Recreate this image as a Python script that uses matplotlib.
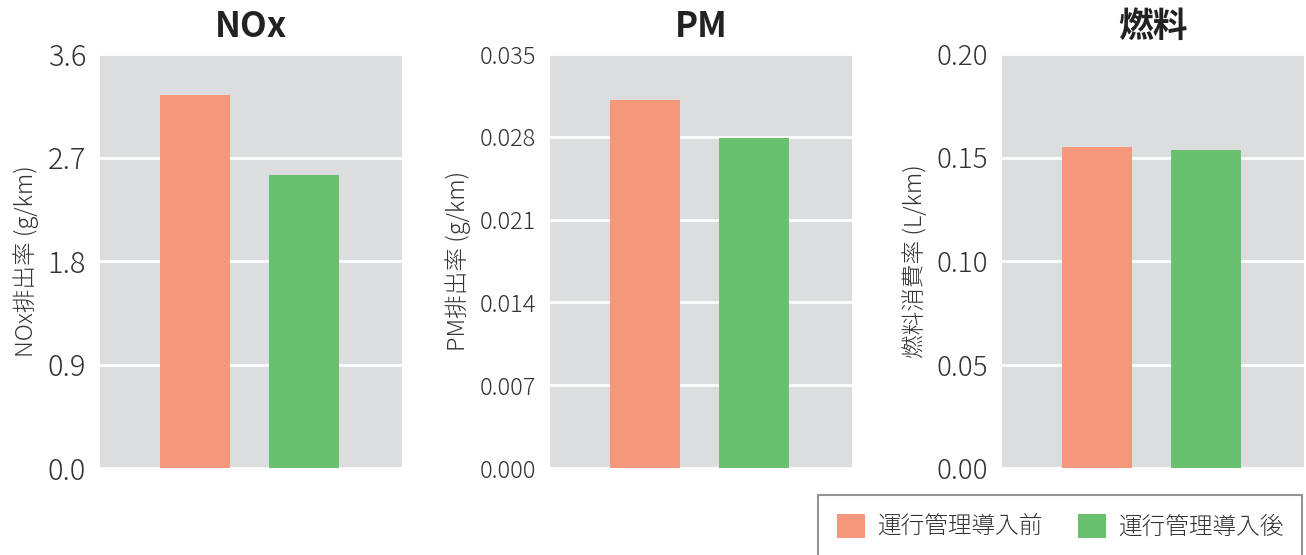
import matplotlib.pyplot as plt
import numpy as np

plt.rcParams['font.family'] = ['Noto Sans CJK JP', 'DejaVu Sans']

titles = ["NOx", "PM", "燃料"]
ylabels = ["NOx排出率 (g/km)", "PM排出率 (g/km)", "燃料消費率 (L/km)"]
series = ["運行管理導入前", "運行管理導入後"]
before = [3.24, 0.0311, 0.1551]
after = [2.55, 0.0279, 0.1536]
yticks = [
    [0.0, 0.9, 1.8, 2.7, 3.6],
    [0.000, 0.007, 0.014, 0.021, 0.028, 0.035],
    [0.00, 0.05, 0.10, 0.15, 0.20],
]
tick_fmt = ["{:.1f}", "{:.3f}", "{:.2f}"]
tick_size = [21, 17, 20]

colors = ["#F4977A", "#69C16F"]
text_color = "#333333"

fig = plt.figure(figsize=(13.06, 5.55), dpi=100)
lefts = [100, 550, 1002]
W, H = 1306, 555
axes = []
for i in range(3):
    ax = fig.add_axes([lefts[i] / W, 1 - 468 / H, 302 / W, 414 / H])
    axes.append(ax)
    ax.set_facecolor("#DCDDDF")
    x = np.arange(2)
    ax.bar(x[0], before[i], width=0.64, color=colors[0], label=series[0], zorder=3)
    ax.bar(x[1], after[i], width=0.64, color=colors[1], label=series[1], zorder=3)
    ax.set_xlim(-0.87, 1.9)
    ax.set_ylim(yticks[i][0], yticks[i][-1])
    ax.set_yticks(yticks[i])
    ax.set_yticklabels([tick_fmt[i].format(v) for v in yticks[i]],
                       fontweight="light")
    ax.set_xticks([])
    ax.grid(axis="y", color="white", linewidth=2, zorder=1)
    for s in ax.spines.values():
        s.set_visible(False)
    ax.tick_params(axis="y", length=0, pad=10, labelsize=tick_size[i], labelcolor=text_color)
    ax.set_ylabel(ylabels[i], fontsize=17, color=text_color, labelpad=6,
                  fontweight="light")
    ax.set_title(titles[i], fontsize=25, fontweight="bold", color="#222222", pad=12)

handles, labels = axes[0].get_legend_handles_labels()
leg = fig.legend(handles, labels, loc="upper left", bbox_to_anchor=(818 / W, 1 - 495 / H),
                 ncol=2, frameon=True, fancybox=False,
                 prop={'family': ['Noto Sans CJK JP'], 'size': 17, 'weight': 'light'},
                 handlelength=1.2, handleheight=1.2, borderpad=0.8, columnspacing=1.5,
                 handletextpad=0.5, borderaxespad=0)
leg.get_frame().set_edgecolor("#777777")
leg.get_frame().set_linewidth(1.5)
for t in leg.get_texts():
    t.set_color(text_color)

fig.savefig("out.png", dpi=100)
